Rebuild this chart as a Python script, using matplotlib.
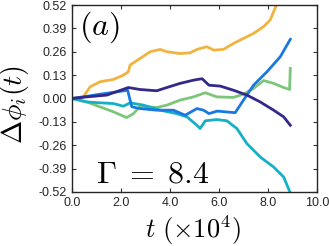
import matplotlib
matplotlib.use('Agg')
import matplotlib.pyplot as plt

# traced curves: t (x1e4) and delta phi
t_yel = [0, 0.46, 0.74, 1.14, 1.69, 2.1, 2.3, 2.37, 2.78, 3.19, 3.6, 3.87, 4.41, 4.82, 5.1, 5.5, 5.78, 6.18, 6.59, 7.0, 7.41, 7.82, 8.09, 8.36]
y_yel = [0, 0.009, 0.065, 0.093, 0.106, 0.13, 0.149, 0.186, 0.223, 0.26, 0.273, 0.26, 0.25, 0.254, 0.273, 0.288, 0.269, 0.273, 0.306, 0.334, 0.362, 0.40, 0.437, 0.525]

t_ind = [0, 0.6, 1.42, 2.3, 2.78, 3.46, 3.87, 4.41, 4.96, 5.31, 5.59, 6.05, 6.59, 7.14, 7.68, 8.23, 8.64, 8.91]
y_ind = [0, 0.009, 0.019, 0.061, 0.05, 0.043, 0.061, 0.084, 0.102, 0.11, 0.074, 0.069, 0.046, 0.019, -0.019, -0.065, -0.102, -0.149]

t_blu = [0, 0.46, 1.14, 1.83, 2.27, 2.44, 2.78, 3.46, 4.14, 4.62, 5.1, 5.37, 5.59, 5.93, 6.66, 7.0, 7.41, 7.96, 8.5, 8.91]
y_blu = [0, 0.009, 0.024, 0.037, 0.046, -0.046, -0.056, -0.065, -0.065, -0.093, -0.056, -0.065, -0.084, -0.07, -0.079, -0.009, 0.074, 0.149, 0.232, 0.329]

t_cya = [0, 0.6, 1.14, 1.69, 2.1, 2.37, 2.92, 3.6, 4.28, 4.69, 5.1, 5.23, 5.44, 5.91, 6.32, 6.73, 7.14, 7.68, 8.23, 8.64, 8.91]
y_cya = [0, -0.019, -0.024, -0.028, -0.043, -0.024, -0.037, -0.065, -0.084, -0.102, -0.149, -0.167, -0.124, -0.117, -0.124, -0.167, -0.251, -0.325, -0.381, -0.437, -0.525]

t_grn = [0, 0.6, 1.14, 1.69, 2.23, 2.51, 2.78, 3.46, 3.87, 4.41, 4.96, 5.44, 5.91, 6.59, 7.0, 7.41, 7.82, 8.23, 8.64, 8.88, 8.91]
y_grn = [0, -0.019, -0.046, -0.074, -0.106, -0.084, -0.043, -0.05, -0.037, -0.009, 0.009, 0.032, 0.009, 0.006, 0.024, 0.056, 0.10, 0.084, 0.061, 0.05, 0.167]

yticks = [-0.52, -0.39, -0.26, -0.13, 0.0, 0.13, 0.26, 0.39, 0.52]
xticks = [0, 2, 4, 6, 8, 10]

plt.rcParams['mathtext.fontset'] = 'cm'
plt.rcParams['font.family'] = ['Liberation Sans', 'DejaVu Sans']

fig = plt.figure(figsize=(3.29, 2.46), dpi=100)
ax = fig.add_axes([72/329, 1-192/246, 245/329, 187/246])

lw = 2.0
ax.plot(t_yel, y_yel, color='#F0B43E', lw=lw)
ax.plot(t_grn, y_grn, color='#7CC67A', lw=lw)
ax.plot(t_cya, y_cya, color='#16AFC6', lw=lw)
ax.plot(t_blu, y_blu, color='#1A78E0', lw=lw)
ax.plot(t_ind, y_ind, color='#34288A', lw=lw)

ax.set_xlim(0, 10)
ax.set_ylim(-0.52, 0.52)
ax.set_xticks(xticks)
ax.set_xticklabels(['%.1f' % v for v in xticks])
ax.set_yticks(yticks)
ax.set_yticklabels(['%.2f' % v for v in yticks])
ax.tick_params(direction='in', top=True, right=True, labelsize=9, length=3, width=0.8, color='#333333', labelcolor='#262626')
for s in ax.spines.values():
    s.set_linewidth(1.0)
    s.set_color('#262626')

ax.text(0.03, 0.978, r'$(a)$', transform=ax.transAxes, fontsize=23, va='top', ha='left')
ax.text(0.10, 0.05, r'$\Gamma\;=\;8.4$', transform=ax.transAxes, fontsize=23, va='baseline', ha='left')

fig.text(15/329, 1-104/246, r'$\Delta\phi_i(t)$', rotation=90, fontsize=20, ha='center', va='center')
fig.text(193/329, 1-230/246, r'$t\ (\times10^4)$', fontsize=19, ha='center', va='center')

fig.savefig('out.png', dpi=100)
